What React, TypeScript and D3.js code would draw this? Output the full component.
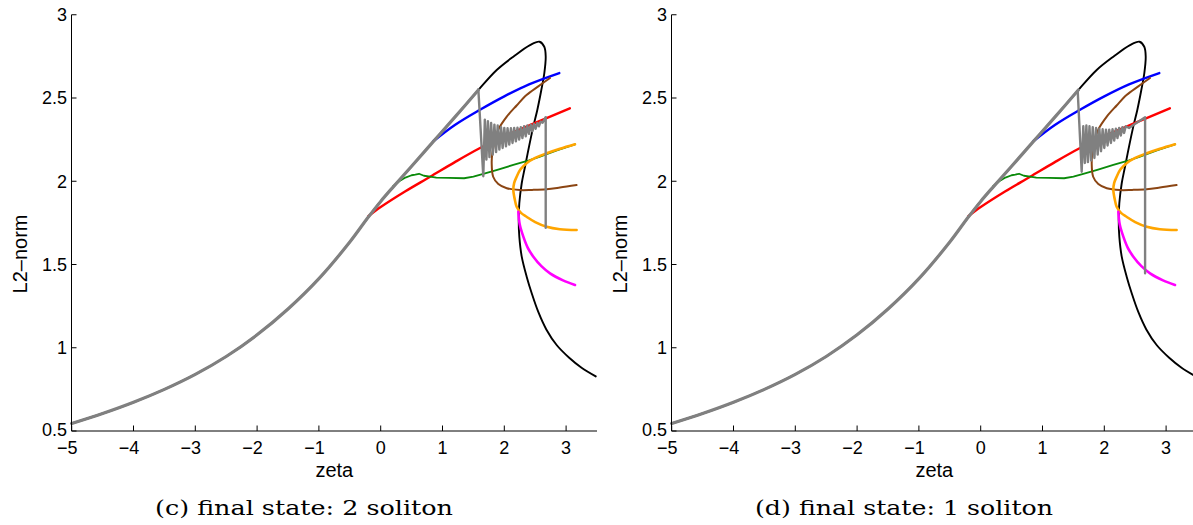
import React from "react";
import * as d3 from "d3";

// ---------- axes ----------
const X_TICKS = [-5, -4, -3, -2, -1, 0, 1, 2, 3];
const Y_TICKS = [0.5, 1, 1.5, 2, 2.5, 3];
const Y_TICK_LABELS = ["0.5", "1", "1.5", "2", "2.5", "3"];
const X_DOMAIN: [number, number] = [-5, 3.5];
const Y_DOMAIN: [number, number] = [0.5, 3];
const X_LABEL = "zeta";
const Y_LABEL = "L2\u2013norm";
const CAPTIONS = ["(c) final state: 2 soliton", "(d) final state: 1 soliton"];

// ---------- shared branches (zeta, L2-norm) ----------
const MAIN_Z = [-5, -4.5, -4, -3.5, -3, -2.5, -2, -1.5, -1, -0.5, -0.2, 0, 0.2, 0.5, 0.85, 1.2, 1.58];
const MAIN_V = [0.545, 0.605, 0.6725, 0.75, 0.84, 0.9475, 1.0775, 1.2325, 1.415, 1.635, 1.785, 1.879, 1.965, 2.09, 2.238, 2.385, 2.548];

const BLACK_Z = [1.877, 2.146, 2.416, 2.57, 2.647, 2.67, 2.647, 2.599, 2.534, 2.469, 2.4, 2.335, 2.282, 2.243, 2.233, 2.243, 2.282, 2.362, 2.45, 2.55, 2.68, 2.85, 3.05, 3.25, 3.48];
const BLACK_V = [2.668, 2.748, 2.818, 2.838, 2.808, 2.748, 2.648, 2.548, 2.428, 2.328, 2.208, 2.087, 1.988, 1.868, 1.767, 1.667, 1.547, 1.427, 1.32, 1.215, 1.11, 1.015, 0.94, 0.88, 0.828];

const BLUE_Z = [0.85, 1.2, 1.6, 2.0, 2.4, 2.89];
const BLUE_V = [2.24, 2.338, 2.428, 2.51, 2.582, 2.65];

const RED_Z = [-0.2, 0, 0.4, 0.8, 1.2, 1.6, 2.0, 2.5, 3.06];
const RED_V = [1.79, 1.845, 1.94, 2.027, 2.115, 2.198, 2.27, 2.35, 2.438];

const GREEN_Z = [0.2, 0.3, 0.4, 0.5, 0.56, 0.62, 0.7, 0.8, 0.9, 1.1, 1.35, 1.5, 1.66, 1.9, 2.146, 2.4, 2.578, 2.85, 3.144];
const GREEN_V = [1.97, 2.0, 2.022, 2.036, 2.04, 2.045, 2.033, 2.028, 2.022, 2.02, 2.018, 2.028, 2.044, 2.07, 2.098, 2.125, 2.148, 2.185, 2.222];

const BROWN_Z = [2.74, 2.55, 2.36, 2.2, 2.04, 1.9, 1.85, 1.806, 1.796, 1.82, 1.903, 2.04, 2.254, 2.45, 2.686, 2.9, 3.17];
const BROWN_V = [2.62, 2.57, 2.518, 2.455, 2.388, 2.308, 2.248, 2.168, 2.108, 2.027, 1.983, 1.958, 1.947, 1.948, 1.952, 1.962, 1.977];

const ORANGE_Z = [3.144, 2.9, 2.686, 2.5, 2.36, 2.26, 2.2, 2.16, 2.146, 2.17, 2.2, 2.27, 2.36, 2.5, 2.686, 2.9, 3.17];
const ORANGE_V = [2.222, 2.195, 2.168, 2.14, 2.108, 2.07, 2.027, 1.99, 1.947, 1.89, 1.847, 1.81, 1.787, 1.755, 1.727, 1.712, 1.707];

const MAGENTA_Z = [2.227, 2.25, 2.308, 2.38, 2.47, 2.6, 2.74, 2.95, 3.144];
const MAGENTA_V = [1.817, 1.74, 1.667, 1.6, 1.547, 1.49, 1.447, 1.405, 1.377];

// ---------- gray trajectory tails (differ per panel) ----------
const GRAY_C_Z = [1.58, 1.66, 1.685, 1.71, 1.735, 1.76, 1.787, 1.813, 1.84, 1.867, 1.893, 1.92, 1.947, 1.973, 2.0, 2.027, 2.053, 2.08, 2.107, 2.133, 2.16, 2.187, 2.213, 2.24, 2.267, 2.293, 2.32, 2.347, 2.373, 2.4, 2.427, 2.453, 2.48, 2.507, 2.533, 2.56, 2.587, 2.62, 2.67, 2.67];
const GRAY_C_V = [2.552, 2.03, 2.37, 2.13, 2.36, 2.145, 2.35, 2.16, 2.34, 2.175, 2.335, 2.19, 2.325, 2.2, 2.32, 2.21, 2.318, 2.22, 2.318, 2.23, 2.32, 2.24, 2.322, 2.25, 2.325, 2.26, 2.33, 2.27, 2.335, 2.285, 2.34, 2.3, 2.345, 2.315, 2.35, 2.33, 2.358, 2.352, 2.385, 1.72];

const GRAY_D_Z = [1.57, 1.634, 1.66, 1.685, 1.71, 1.735, 1.76, 1.787, 1.813, 1.84, 1.867, 1.893, 1.92, 1.947, 1.973, 2.0, 2.027, 2.053, 2.08, 2.107, 2.133, 2.16, 2.187, 2.213, 2.24, 2.267, 2.293, 2.32, 2.347, 2.4, 2.5, 2.6, 2.66, 2.66];
const GRAY_D_V = [2.54, 2.057, 2.33, 2.11, 2.335, 2.115, 2.33, 2.125, 2.325, 2.14, 2.32, 2.16, 2.315, 2.18, 2.312, 2.2, 2.31, 2.215, 2.31, 2.23, 2.312, 2.245, 2.315, 2.26, 2.32, 2.275, 2.325, 2.29, 2.33, 2.32, 2.345, 2.37, 2.384, 1.447];

type Pt = [number, number];
const zip = (zs: number[], vs: number[]): Pt[] => zs.map((z, i) => [z, vs[i]]);

const W = 1193;
const H = 525;
const PANEL_W = 600;
const LEFT = 71.7;
const PX_PER_UNIT = 61.8;
const TOP = 14.75;
const BOTTOM = 431;

function Panel({ dx, grayZ, grayV, caption }: { dx: number; grayZ: number[]; grayV: number[]; caption: string }) {
  const x = d3.scaleLinear().domain(X_DOMAIN).range([LEFT, LEFT + (X_DOMAIN[1] - X_DOMAIN[0]) * PX_PER_UNIT]);
  const y = d3.scaleLinear().domain(Y_DOMAIN).range([BOTTOM, TOP]);
  const smooth = d3.line<Pt>().x((d) => x(d[0])).y((d) => y(d[1])).curve(d3.curveCatmullRom.alpha(0.5));
  const straight = d3.line<Pt>().x((d) => x(d[0])).y((d) => y(d[1]));

  const main = zip(MAIN_Z, MAIN_V);
  const black = main.concat(zip(BLACK_Z, BLACK_V));
  const grayTail = zip(grayZ, grayV);

  const font = "'Liberation Sans', Arial, Helvetica, sans-serif";
  const [x0, x1] = x.range();

  return (
    <g transform={`translate(${dx},0)`}>
      {/* curves */}
      <g fill="none" strokeLinejoin="round" strokeLinecap="round">
        <path d={smooth(black) || ""} stroke="#000" strokeWidth={1.9} />
        <path d={smooth(zip(BLUE_Z, BLUE_V)) || ""} stroke="#0000ff" strokeWidth={2.4} />
        <path d={smooth(zip(RED_Z, RED_V)) || ""} stroke="#ff0000" strokeWidth={2.4} />
        <path d={straight(zip(GREEN_Z, GREEN_V)) || ""} stroke="#0a8a0a" strokeWidth={1.8} />
        <path d={smooth(zip(BROWN_Z, BROWN_V)) || ""} stroke="#8b4513" strokeWidth={2} />
        <path d={smooth(zip(ORANGE_Z, ORANGE_V)) || ""} stroke="#ffa500" strokeWidth={2.6} />
        <path d={smooth(zip(MAGENTA_Z, MAGENTA_V)) || ""} stroke="#ff00ff" strokeWidth={2.6} />
        <path d={smooth(main) || ""} stroke="#808080" strokeWidth={3.2} />
        <path d={straight(grayTail) || ""} stroke="#808080" strokeWidth={2.4} />
      </g>

      {/* axes */}
      <line x1={x0} x2={x1} y1={BOTTOM} y2={BOTTOM} stroke="#000" strokeWidth={1} />
      <line x1={71.5} x2={71.5} y1={TOP} y2={BOTTOM} stroke="#000" strokeWidth={1} />
      {X_TICKS.map((t) => (
        <g key={"xt" + t}>
          <line x1={x(t)} x2={x(t)} y1={BOTTOM} y2={BOTTOM - 5.5} stroke="#000" strokeWidth={1} />
          <text x={x(t) - (t < 0 ? 4.5 : 0)} y={454} textAnchor="middle" fontFamily={font} fontSize={18} fill="#000">
            {t < 0 ? "\u2212" + Math.abs(t) : String(t)}
          </text>
        </g>
      ))}
      {Y_TICKS.map((t, i) => (
        <g key={"yt" + t}>
          <line x1={71.5} x2={76.5} y1={y(t)} y2={y(t)} stroke="#000" strokeWidth={1} />
          <text x={67} y={y(t)} dy={t === 0.5 ? "0.3em" : "0.36em"} textAnchor="end" fontFamily={font} fontSize={18} fill="#000">
            {Y_TICK_LABELS[i]}
          </text>
        </g>
      ))}
      <text x={(x0 + x1) / 2} y={477} textAnchor="middle" fontFamily={font} fontSize={20} fill="#000">
        {X_LABEL}
      </text>
      <text transform={`translate(27,254) rotate(-90)`} textAnchor="middle" fontFamily={font} fontSize={20} fill="#000">
        {Y_LABEL}
      </text>
      <text x={304} y={515} textAnchor="middle" fontFamily="'DejaVu Serif', serif" fontSize={21} fill="#000" textLength={298} lengthAdjust="spacingAndGlyphs">
        {caption}
      </text>
    </g>
  );
}

export default function App() {
  return (
    <svg width={W} height={H} viewBox={`0 0 ${W} ${H}`} style={{ position: "absolute", left: 0, top: 0, background: "#fff" }}>
      <rect width={W} height={H} fill="#fff" />
      <Panel dx={0} grayZ={GRAY_C_Z} grayV={GRAY_C_V} caption={CAPTIONS[0]} />
      <Panel dx={PANEL_W} grayZ={GRAY_D_Z} grayV={GRAY_D_V} caption={CAPTIONS[1]} />
    </svg>
  );
}
